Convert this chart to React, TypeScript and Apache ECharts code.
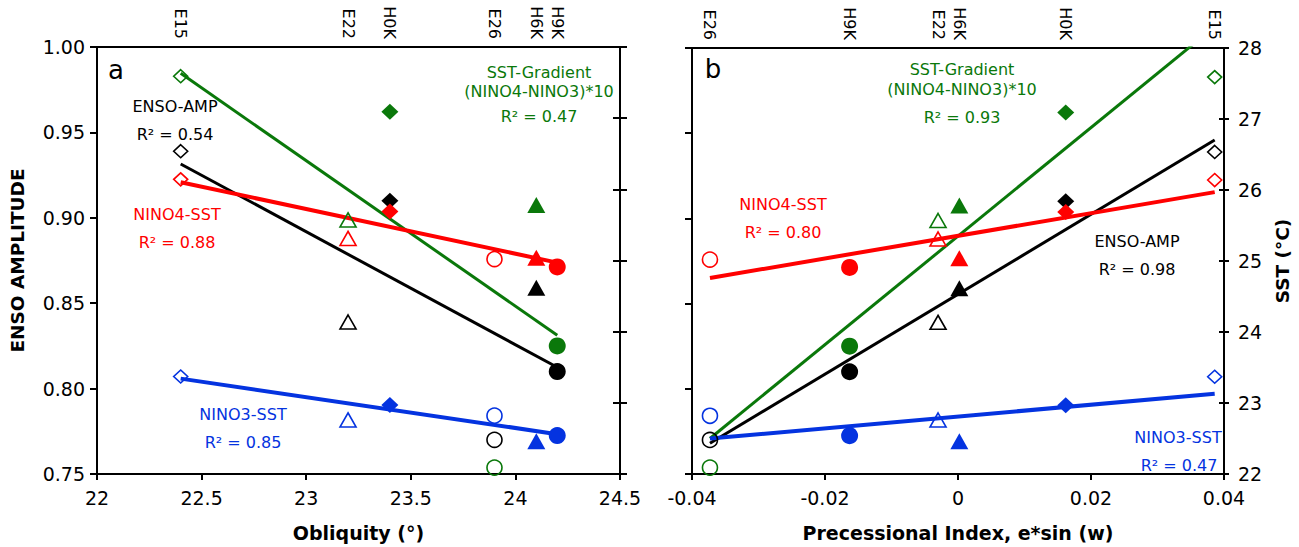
import React, { useEffect, useRef } from 'react';
import * as echarts from 'echarts';

// ---- Data ----
const experiments = ['E15', 'E22', 'H0K', 'E26', 'H6K', 'H9K'];
const obliquity = [22.4, 23.2, 23.4, 23.9, 24.1, 24.2];
const precessionIndex = [0.0386, -0.003, 0.0162, -0.0373, 0.0002, -0.0163];
const ensoAmp = [0.939, 0.839, 0.91, 0.77, 0.859, 0.81];
const nino4Sst = [26.14, 25.31, 25.69, 25.02, 25.04, 24.91];
const nino3Sst = [23.37, 22.76, 22.97, 22.82, 22.46, 22.54];
const sstGradient = [27.59, 25.57, 27.09, 22.09, 25.78, 23.8];

const markerSymbols = ['diamond', 'triangle', 'diamond', 'circle', 'triangle', 'circle'];
const markerFilled = [false, false, true, false, true, true];

// regression lines (end points)
const obliquityFitX = [22.4, 24.2];
const ensoFitObliquity = [0.9315, 0.8125];
const nino4FitObliquity = [26.1, 24.97];
const nino3FitObliquity = [23.34, 22.56];
const gradientFitObliquity = [27.63, 23.95];
const precessionFitX = [-0.0373, 0.0386];
const ensoFitPrecession = [0.768, 0.946];
const nino4FitPrecession = [24.76, 25.97];
const nino3FitPrecession = [22.5, 23.13];
const gradientFitPrecession = [22.5, 28.3];

// axis ranges
const obliquityRange = [22, 24.5, 0.5];
const precessionRange = [-0.04, 0.04, 0.02];
const ampRange = [0.75, 1.0, 0.05];
const sstRange = [22, 28, 1];

const BLACK = '#000000';
const RED = '#ff0000';
const BLUE = '#0433e0';
const GREEN = '#0a780a';
const FONT = 'DejaVu Sans';

function markerSize(sym: string, filled: boolean): any {
  if (sym === 'diamond') return filled ? [17, 16] : [14, 13];
  if (sym === 'triangle') return filled ? [18, 16] : [16, 14];
  return filled ? 17 : 15;
}

function markers(xs: number[], ys: number[], color: string) {
  return xs.map((x, i) => ({
    value: [x, ys[i]],
    symbol: markerSymbols[i],
    symbolSize: markerSize(markerSymbols[i], markerFilled[i]),
    itemStyle: markerFilled[i]
      ? { color, borderColor: color, borderWidth: 0, opacity: 1 }
      : { color: 'rgba(255,255,255,0)', borderColor: color, borderWidth: 1.6, opacity: 1 },
  }));
}

function scatter(xs: number[], ys: number[], color: string, xi: number, yi: number) {
  return {
    type: 'scatter',
    xAxisIndex: xi,
    yAxisIndex: yi,
    data: markers(xs, ys, color),
    itemStyle: { opacity: 1 },
    z: 5,
    silent: true,
  };
}

function fit(xs: number[], ys: number[], color: string, width: number, xi: number, yi: number) {
  return {
    type: 'line',
    xAxisIndex: xi,
    yAxisIndex: yi,
    data: xs.map((x, i) => [x, ys[i]]),
    symbol: 'none',
    clip: true,
    lineStyle: { color, width },
    z: 3,
    silent: true,
  };
}

const axisLine = { show: true, onZero: false, lineStyle: { color: BLACK, width: 2 } };
const labelStyle = { color: BLACK, fontSize: 19, fontFamily: FONT };
const nameStyle = { color: BLACK, fontSize: 19, fontWeight: 'bold', fontFamily: FONT };

function topLabels(values: number[]) {
  return {
    show: true,
    customValues: values,
    rotate: 90,
    margin: 8,
    color: BLACK,
    fontSize: 16,
    fontFamily: FONT,
    formatter: (v: number) => {
      let best = 0;
      values.forEach((val, i) => {
        if (Math.abs(val - v) < Math.abs(values[best] - v)) best = i;
      });
      return experiments[best];
    },
  };
}

function txt(text: string, x: number, y: number, color: string, size = 16) {
  return {
    type: 'text',
    x,
    y,
    silent: true,
    style: {
      text,
      fill: color,
      font: `${size}px "${FONT}"`,
      textAlign: 'center',
      textVerticalAlign: 'middle',
      align: 'center',
      verticalAlign: 'middle',
    },
  };
}

export default function App() {
  const ref = useRef<HTMLDivElement>(null);
  useEffect(() => {
    if (!ref.current) return;
    const chart = echarts.init(ref.current, undefined, { renderer: 'svg' });
    const option: any = {
      animation: false,
      textStyle: { fontFamily: FONT },
      grid: [
        { left: 97, top: 47, width: 523, height: 427 },
        { left: 692, top: 48, width: 532, height: 427 },
      ],
      xAxis: [
        {
          gridIndex: 0, type: 'value', position: 'bottom',
          min: obliquityRange[0], max: obliquityRange[1], interval: obliquityRange[2],
          axisLine, axisTick: { show: true, length: 6, lineStyle: { color: BLACK, width: 2 } },
          axisLabel: { ...labelStyle, margin: 14 },
          splitLine: { show: false },
          name: 'Obliquity (°)', nameLocation: 'middle', nameGap: 49, nameTextStyle: nameStyle,
        },
        {
          gridIndex: 0, type: 'value', position: 'top',
          min: obliquityRange[0], max: obliquityRange[1],
          axisLine, axisTick: { show: false },
          axisLabel: topLabels(obliquity),
          splitLine: { show: false },
        },
        {
          gridIndex: 1, type: 'value', position: 'bottom',
          min: precessionRange[0], max: precessionRange[1], interval: precessionRange[2],
          axisLine, axisTick: { show: true, length: 6, lineStyle: { color: BLACK, width: 2 } },
          axisLabel: { ...labelStyle, margin: 14, formatter: (v: number) => String(Number(v.toFixed(2)) || 0) },
          splitLine: { show: false },
          name: 'Precessional Index, e*sin (w)', nameLocation: 'middle', nameGap: 49, nameTextStyle: nameStyle,
        },
        {
          gridIndex: 1, type: 'value', position: 'top',
          min: precessionRange[0], max: precessionRange[1],
          axisLine, axisTick: { show: false },
          axisLabel: topLabels(precessionIndex),
          splitLine: { show: false },
        },
      ],
      yAxis: [
        {
          gridIndex: 0, type: 'value', position: 'left',
          min: ampRange[0], max: ampRange[1], interval: ampRange[2],
          axisLine, axisTick: { show: true, length: 7, lineStyle: { color: BLACK, width: 2 } },
          axisLabel: { ...labelStyle, margin: 12, formatter: (v: number) => v.toFixed(2) },
          splitLine: { show: false },
          name: 'ENSO AMPLITUDE', nameLocation: 'middle', nameRotate: 90, nameGap: 70,
          nameTextStyle: { ...nameStyle, fontSize: 18.5 },
        },
        {
          gridIndex: 0, type: 'value', position: 'right',
          min: sstRange[0], max: sstRange[1], interval: sstRange[2],
          axisLine, axisTick: { show: true, inside: true, length: 7, lineStyle: { color: BLACK, width: 2 } },
          axisLabel: { show: false }, splitLine: { show: false },
        },
        {
          gridIndex: 0, type: 'value', position: 'right',
          min: sstRange[0], max: sstRange[1], interval: sstRange[2],
          axisLine, axisTick: { show: true, inside: false, length: 7, lineStyle: { color: BLACK, width: 2 } },
          axisLabel: { show: false }, splitLine: { show: false },
        },
        {
          gridIndex: 1, type: 'value', position: 'left',
          min: ampRange[0], max: ampRange[1], interval: ampRange[2],
          axisLine, axisTick: { show: true, length: 7, lineStyle: { color: BLACK, width: 2 } },
          axisLabel: { show: false }, splitLine: { show: false },
        },
        {
          gridIndex: 1, type: 'value', position: 'right',
          min: sstRange[0], max: sstRange[1], interval: sstRange[2],
          axisLine, axisTick: { show: true, inside: false, length: 5, lineStyle: { color: BLACK, width: 2 } },
          axisLabel: { ...labelStyle, margin: 14 }, splitLine: { show: false },
          name: 'SST (°C)', nameLocation: 'middle', nameRotate: 90, nameGap: 49,
          nameTextStyle: { ...nameStyle, fontSize: 18.5 },
        },
        {
          gridIndex: 1, type: 'value', position: 'right',
          min: sstRange[0], max: sstRange[1], interval: sstRange[2],
          axisLine, axisTick: { show: true, inside: true, length: 5, lineStyle: { color: BLACK, width: 2 } },
          axisLabel: { show: false }, splitLine: { show: false },
        },
      ],
      series: [
        // panel a
        fit(obliquityFitX, gradientFitObliquity, GREEN, 3, 0, 1),
        fit(obliquityFitX, ensoFitObliquity, BLACK, 3, 0, 0),
        fit(obliquityFitX, nino4FitObliquity, RED, 4, 0, 1),
        fit(obliquityFitX, nino3FitObliquity, BLUE, 4, 0, 1),
        scatter(obliquity, sstGradient, GREEN, 0, 1),
        scatter(obliquity, ensoAmp, BLACK, 0, 0),
        scatter(obliquity, nino4Sst, RED, 0, 1),
        scatter(obliquity, nino3Sst, BLUE, 0, 1),
        // panel b
        fit(precessionFitX, gradientFitPrecession, GREEN, 3, 2, 4),
        fit(precessionFitX, ensoFitPrecession, BLACK, 3, 2, 3),
        fit(precessionFitX, nino4FitPrecession, RED, 4, 2, 4),
        fit(precessionFitX, nino3FitPrecession, BLUE, 4, 2, 4),
        scatter(precessionIndex, sstGradient, GREEN, 2, 4),
        scatter(precessionIndex, ensoAmp, BLACK, 2, 3),
        scatter(precessionIndex, nino4Sst, RED, 2, 4),
        scatter(precessionIndex, nino3Sst, BLUE, 2, 4),
      ],
      graphic: [
        txt('a', 116, 70, BLACK, 26),
        txt('ENSO-AMP', 175, 106, BLACK),
        txt('R² = 0.54', 175, 134, BLACK),
        txt('NINO4-SST', 177, 214, RED),
        txt('R² = 0.88', 177, 242, RED),
        txt('NINO3-SST', 243, 414, BLUE),
        txt('R² = 0.85', 243, 442, BLUE),
        txt('SST-Gradient', 539, 72, GREEN),
        txt('(NINO4-NINO3)*10', 539, 91, GREEN),
        txt('R² = 0.47', 539, 116, GREEN),
        txt('b', 713, 69, BLACK, 26),
        txt('SST-Gradient', 962, 69, GREEN),
        txt('(NINO4-NINO3)*10', 962, 89, GREEN),
        txt('R² = 0.93', 962, 117, GREEN),
        txt('NINO4-SST', 783, 204, RED),
        txt('R² = 0.80', 783, 232, RED),
        txt('ENSO-AMP', 1137, 241, BLACK),
        txt('R² = 0.98', 1137, 269, BLACK),
        txt('NINO3-SST', 1178, 437, BLUE),
        txt('R² = 0.47', 1179, 465, BLUE),
      ],
    };
    chart.setOption(option);
    return () => chart.dispose();
  }, []);
  return (
    <div
      ref={ref}
      style={{ position: 'absolute', left: 0, top: 0, width: 1299, height: 547, background: '#fff' }}
    />
  );
}
